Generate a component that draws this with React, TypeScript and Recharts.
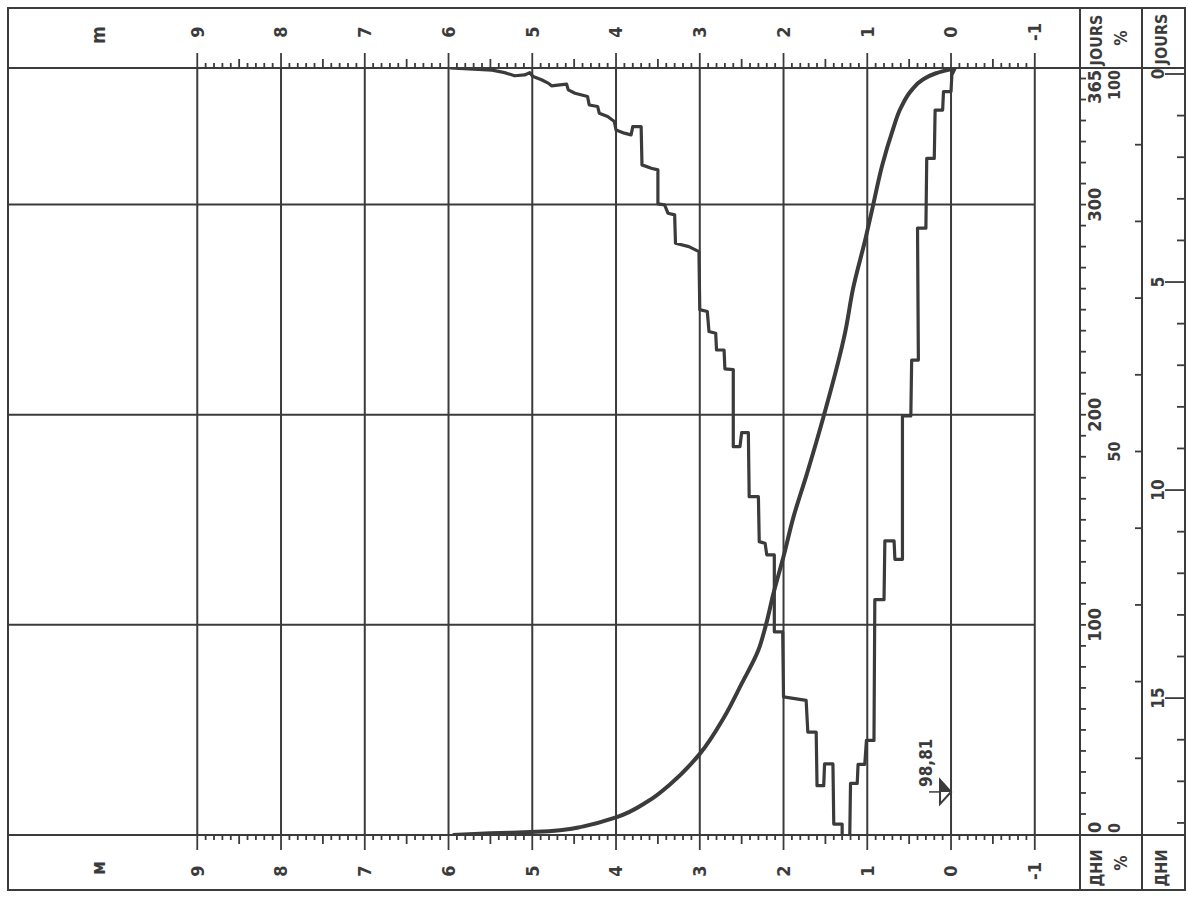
import React from 'react';
import { ComposedChart, Line, XAxis, YAxis, ReferenceLine, ReferenceDot } from 'recharts';

// the sheet is drawn upright (days across, level up) and then turned a quarter turn
const W = 898;
const H = 1188;
const INK = '#3b3b3b';
const FONT = "'Liberation Sans Narrow', 'DejaVu Sans Condensed', 'Arial Narrow', sans-serif";

const M = { top: 8, right: 8, bottom: 3, left: 8 };
const LEFT_W = 55;
const RIGHT_W = 60;
const DAYS_H = 61;
const PCT_H = 1;
const JOURS_H = 43;

// bottom axes are stacked in id order
const DAYS = 'a-days';
const PCT = 'b-pct';
const JOURS = 'c-jours';

// level axis, m
const levelDomain = [-1.54, 11.26];
const levelGrid = [-1, 0, 1, 2, 3, 4, 5, 6, 7, 8, 9];
const levelTicks = Array.from({ length: 101 }, (_, i) => Math.round(-10 + i) / 10);

// days axis
const dayGrid = [100, 200, 300];
const dayTicks = [...Array.from({ length: 37 }, (_, i) => i * 10), 365];
const dayLabels = [0, 100, 200, 300, 365];
const pctDomain = [0, 100];
const pctTicks = [0, 10, 20, 30, 40, 50, 60, 70, 80, 90, 100];
const pctLabels = [0, 50, 100];
const joursDomain = [-0.144, 18.29];
const joursTicks = Array.from({ length: 19 }, (_, i) => i);
const joursLabels = [0, 5, 10, 15];

// smooth duration curve
const smoothDays = [0, 0.8, 1.5, 2.5, 4, 8.4, 16.3, 24.3, 38.6, 56, 72, 88, 100, 115, 132.5, 151.5, 172, 199.4, 240, 260, 284, 298, 319, 335, 346, 354, 359.4, 362.5, 364.3, 365];
const smoothLevels = [5.95, 5.5, 4.95, 4.62, 4.4, 4.0, 3.61, 3.35, 3.0, 2.71, 2.5, 2.3, 2.21, 2.12, 2.0, 1.88, 1.72, 1.52, 1.26, 1.17, 1.02, 0.94, 0.82, 0.7, 0.6, 0.48, 0.34, 0.18, 0.02, -0.04];

// stepped envelope, traced as one path (upper branch down, lower branch back up)
const stepDays = [
  365, 364, 362.8, 361.3, 361.7, 362.8, 360.9, 359.4, 357.8, 356.5, 357, 357.3, 354.6, 353, 351.4, 347.4, 346.7,
  343.5, 341.9, 339.5, 335.5, 334, 333.2, 337.1, 337.1, 318.9, 317.3, 316.5, 300.3, 299.9, 295.9, 295.1, 281.6,
  280, 277.6, 250, 249.1, 239.6, 238.8, 230.8, 230.8, 221.8, 221.5, 184.8, 184.8, 191.5, 191.5, 161, 161, 139.6,
  138.8, 133.3, 133.3, 96.7, 96.7, 65.7, 64.1, 49, 49, 23.5, 23.5, 33.8, 33.8, 5.2, 5.2, -3, -3, 24.6, 24.6, 33.6,
  33.6, 45, 45, 112, 112, 140, 140, 131.2, 131.2, 199.4, 199.4, 226, 226, 288.8, 288.8, 322, 322, 345, 345, 353.8,
  353.8, 361.7, 365,
];
const stepLevels = [
  5.98, 5.48, 5.33, 5.21, 5.09, 5.03, 4.99, 4.89, 4.81, 4.77, 4.67, 4.59, 4.57, 4.49, 4.34, 4.32, 4.22,
  4.2, 4.1, 4.02, 4.0, 3.9, 3.82, 3.8, 3.7, 3.69, 3.58, 3.5, 3.5, 3.42, 3.38, 3.3, 3.29,
  3.13, 3.01, 3.0, 2.91, 2.89, 2.81, 2.8, 2.71, 2.7, 2.6, 2.6, 2.52, 2.5, 2.42, 2.41, 2.3, 2.29,
  2.22, 2.2, 2.11, 2.11, 2.01, 2.0, 1.73, 1.71, 1.61, 1.6, 1.52, 1.51, 1.41, 1.4, 1.3, 1.3, 1.21, 1.2, 1.12, 1.11,
  1.03, 1.01, 0.92, 0.91, 0.8, 0.79, 0.68, 0.67, 0.58, 0.58, 0.48, 0.47, 0.39, 0.4, 0.3, 0.29, 0.2, 0.19, 0.1, 0.09,
  0.0, -0.01, -0.05,
];

// gauge zero mark
const gaugeDay = 20.5;
const gaugeLevel = 0;
const gaugeLabel = '98,81';

const smoothRows = smoothDays.map((day, i) => ({ day, level: smoothLevels[i] }));
const stepRows = stepDays.map((day, i) => ({ day, level: stepLevels[i] }));
// empty carriers so the two scale-only axes get drawn
const pctRows = pctDomain.map((pct) => ({ pct }));
const joursRows = joursDomain.map((jours) => ({ jours }));

const txt = { fontFamily: FONT, fontWeight: 700, fill: INK } as const;

const near = (a: number, b: number) => Math.abs(a - b) < 1e-6;

const LevelTick = (props: any) => {
  const { x, y, payload, side } = props;
  const v = payload.value;
  const s = side === 'left' ? -1 : 1;
  const major = near(v, Math.round(v));
  const half = near(v * 2, Math.round(v * 2));
  const len = major ? 15 : half ? 9 : 5;
  return (
    <g>
      <line x1={x} y1={y} x2={x + s * len} y2={y} stroke={INK} strokeWidth={1.8} />
      {major && (
        <text x={x + s * 36} y={y} dy="0.35em" textAnchor="middle" fontSize={18} {...txt}>
          {String(Math.round(v))}
        </text>
      )}
      {major && Math.round(v) === 9 && (
        <text x={x + s * 33} y={y - 99} dy="0.35em" textAnchor="middle" fontSize={19} {...txt}>
          {side === 'left' ? 'м' : 'm'}
        </text>
      )}
    </g>
  );
};

const DayTick = (props: any) => {
  const { x, y, payload } = props;
  const v = payload.value;
  const label = dayLabels.includes(v);
  const anchor = v === 0 ? 'start' : v === 365 ? 'end' : 'middle';
  const lx = v === 0 ? x + 2 : v === 365 ? x - 2 : x;
  return (
    <g>
      <line x1={x} y1={y} x2={x} y2={y + 6} stroke={INK} strokeWidth={1.8} />
      {label && (
        <text x={lx} y={y + 21} textAnchor={anchor} fontSize={18} {...txt}>
          {v}
        </text>
      )}
      {v === 365 && (
        <g>
          <text x={x + 28} y={y + 22} textAnchor="middle" fontSize={16} {...txt}>JOURS</text>
          <text x={x + 30} y={y + 47} textAnchor="middle" fontSize={17} {...txt}>%</text>
          <text x={x + 29} y={y + 87} textAnchor="middle" fontSize={16} {...txt}>JOURS</text>
        </g>
      )}
      {v === 0 && (
        <g>
          <text x={x - 33} y={y + 22} textAnchor="middle" fontSize={16} {...txt}>ДНИ</text>
          <text x={x - 28} y={y + 47} textAnchor="middle" fontSize={17} {...txt}>%</text>
          <text x={x - 33} y={y + 87} textAnchor="middle" fontSize={16} {...txt}>ДНИ</text>
        </g>
      )}
    </g>
  );
};

const PctTick = (props: any) => {
  const { x, y, payload } = props;
  const v = payload.value;
  const base = y + PCT_H;
  const anchor = v === 0 ? 'start' : v === 100 ? 'end' : 'middle';
  const lx = v === 0 ? x + 2 : v === 100 ? x - 2 : x;
  return (
    <g>
      <line x1={x} y1={base} x2={x} y2={base - 7} stroke={INK} strokeWidth={1.8} />
      {pctLabels.includes(v) && (
        <text x={lx} y={base - 22} textAnchor={anchor} fontSize={16} {...txt}>
          {v}
        </text>
      )}
    </g>
  );
};

const JoursTick = (props: any) => {
  const { x, y, payload } = props;
  const v = payload.value;
  const label = joursLabels.includes(v);
  const bottom = y + JOURS_H;
  return (
    <g>
      <line x1={x} y1={bottom} x2={x} y2={bottom - (label ? 20 : 8)} stroke={INK} strokeWidth={1.8} />
      {label && (
        <text x={x} y={y + 22} textAnchor="middle" fontSize={17} {...txt}>
          {v}
        </text>
      )}
    </g>
  );
};

const GaugeMark = (props: any) => {
  const { cx, cy } = props;
  return (
    <g>
      <line x1={cx} y1={cy - 22} x2={cx} y2={cy} stroke={INK} strokeWidth={1.5} />
      <polygon points={`${cx - 12},${cy - 11} ${cx + 12},${cy - 11} ${cx},${cy}`} fill="#fff" stroke={INK} strokeWidth={2} />
      <polygon points={`${cx},${cy - 11} ${cx + 12},${cy - 11} ${cx},${cy}`} fill={INK} />
      <text x={cx + 5} y={cy - 19} fontSize={17} {...txt}>{gaugeLabel}</text>
    </g>
  );
};

const plotLeft = M.left + LEFT_W;
const plotRight = W - M.right - RIGHT_W;
const plotBottom = H - M.bottom - JOURS_H - PCT_H - DAYS_H;
const col2Top = plotBottom + DAYS_H + PCT_H;

const hLine = (y: number): React.CSSProperties => ({
  position: 'absolute', left: M.left, top: y - 1, width: W - M.left - M.right, height: 2, background: INK,
});
const vLine = (x: number): React.CSSProperties => ({
  position: 'absolute', left: x - 1, top: M.top, width: 2, height: H - M.top - M.bottom, background: INK,
});

export default function App() {
  return (
    <div style={{ position: 'fixed', left: 0, top: 0, width: H, height: W, background: '#fff', overflow: 'hidden' }}>
      <div
        style={{
          position: 'absolute', left: 0, top: 0, width: W, height: H,
          transformOrigin: '0 0', transform: `translateY(${W}px) rotate(-90deg)`,
        }}
      >
        <div
          style={{
            position: 'absolute', left: M.left - 1, top: M.top - 1, width: W - M.left - M.right + 2,
            height: H - M.top - M.bottom + 2, border: `2px solid ${INK}`, boxSizing: 'border-box',
          }}
        />
        <div style={vLine(plotLeft)} />
        <div style={vLine(plotRight)} />
        <div style={hLine(plotBottom)} />
        <div style={hLine(col2Top)} />
        <ComposedChart width={W} height={H} margin={M} style={{ position: 'absolute', left: 0, top: 0 }}>
          <XAxis
            xAxisId={DAYS} type="number" dataKey="day" domain={[0, 365]} ticks={dayTicks} interval={0}
            height={DAYS_H} tickSize={0} tickMargin={0} axisLine={false} allowDataOverflow tick={DayTick}
          />
          <XAxis
            xAxisId={PCT} type="number" dataKey="pct" domain={pctDomain} ticks={pctTicks} interval={0}
            height={PCT_H} tickSize={0} tickMargin={0} axisLine={false} allowDataOverflow tick={PctTick}
          />
          <XAxis
            xAxisId={JOURS} type="number" dataKey="jours" domain={joursDomain} reversed ticks={joursTicks} interval={0}
            height={JOURS_H} tickSize={0} tickMargin={0} axisLine={false} allowDataOverflow tick={JoursTick}
          />
          <YAxis
            yAxisId="left" orientation="left" type="number" domain={levelDomain} ticks={levelTicks} interval={0}
            width={LEFT_W} tickSize={0} tickMargin={0} axisLine={false} allowDataOverflow
            tick={(p: any) => <LevelTick {...p} side="left" />}
          />
          <YAxis
            yAxisId="right" orientation="right" type="number" domain={levelDomain} ticks={levelTicks} interval={0}
            width={RIGHT_W} tickSize={0} tickMargin={0} axisLine={false} allowDataOverflow
            tick={(p: any) => <LevelTick {...p} side="right" />}
          />
          {levelGrid.map((v) => (
            <ReferenceLine key={`l${v}`} xAxisId={DAYS} yAxisId="left" y={v} stroke={INK} strokeWidth={2} />
          ))}
          {dayGrid.map((d) => (
            <ReferenceLine
              key={`d${d}`} xAxisId={DAYS} yAxisId="left" stroke={INK} strokeWidth={2}
              segment={[{ x: d, y: -1 }, { x: d, y: levelDomain[1] }]}
            />
          ))}
          <Line
            xAxisId={PCT} yAxisId="left" data={pctRows} dataKey="level" stroke="none"
            dot={false} activeDot={false} isAnimationActive={false}
          />
          <Line
            xAxisId={JOURS} yAxisId="left" data={joursRows} dataKey="level" stroke="none"
            dot={false} activeDot={false} isAnimationActive={false}
          />
          <Line
            xAxisId={DAYS} yAxisId="left" data={smoothRows} dataKey="level" type="monotone"
            stroke={INK} strokeWidth={4} dot={false} activeDot={false} isAnimationActive={false}
          />
          <Line
            xAxisId={DAYS} yAxisId="left" data={stepRows} dataKey="level" type="linear"
            stroke={INK} strokeWidth={3.2} strokeLinejoin="round" dot={false} activeDot={false} isAnimationActive={false}
          />
          <ReferenceDot
            xAxisId={DAYS} yAxisId="left" x={gaugeDay} y={gaugeLevel} r={0} ifOverflow="visible" shape={GaugeMark}
          />
        </ComposedChart>
      </div>
    </div>
  );
}
